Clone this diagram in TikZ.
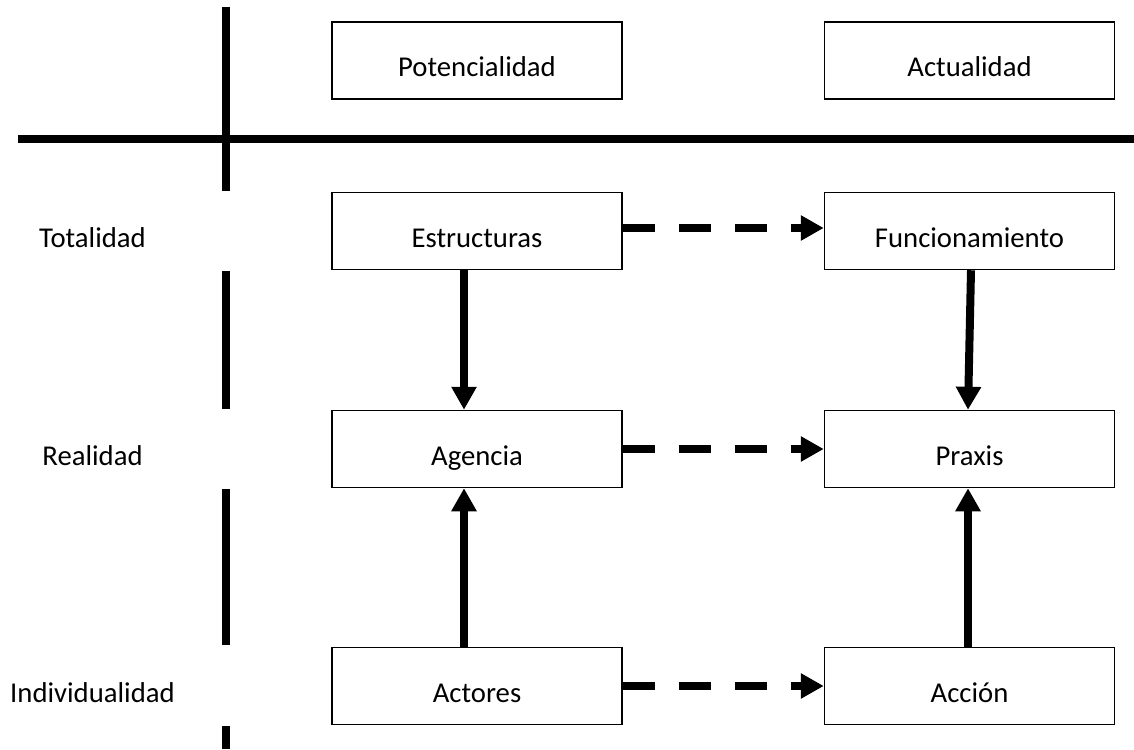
\documentclass[tikz,border=0pt]{standalone}
\usepackage{fontspec}
\setmainfont{Carlito}
\usetikzlibrary{arrows.meta}
\tikzstyle{CellNode}=[rectangle, draw=black, line width=1.5pt, minimum width=290pt, minimum height=77pt, inner sep=0pt, text height=32pt, text depth=0pt, font=\fontsize{28.7}{34}\selectfont]
\tikzstyle{RowLabel}=[CellNode, draw=none, minimum width=0pt]
\tikzstyle{Divider}=[line width=8pt]
\tikzstyle{FlowEdge}=[-{Triangle[length=23pt,width=24pt]}, line width=8pt]
\tikzstyle{LinkEdge}=[FlowEdge, dash pattern=on 32pt off 24pt]

\begin{document}
\begin{tikzpicture}[x=1pt,y=-1pt]
\useasboundingbox (0,0) rectangle (1134,749);

\node[CellNode](POT) at (477,60.5) {Potencialidad};
\node[CellNode](ACT) at (969.5,60.5) {Actualidad};
\node[CellNode](EST) at (477,231) {Estructuras};
\node[CellNode](FUN) at (969.5,231) {Funcionamiento};
\node[CellNode](AGE) at (477,449) {Agencia};
\node[CellNode](PRA) at (969.5,449) {Praxis};
\node[CellNode](ACO) at (477,686) {Actores};
\node[CellNode](ACC) at (969.5,686) {Acción};

\node[RowLabel](TOT) at (92.5,231) {Totalidad};
\node[RowLabel](REA) at (92.5,449) {Realidad};
\node[RowLabel](IND) at (92.5,686) {Individualidad};

% dividers
\draw[Divider](18,138.5) -- (1134,138.5);
\draw[Divider](226,7) -- (226,191);
\draw[Divider](226,271) -- (226,409);
\draw[Divider](226,489) -- (226,645);
\draw[Divider](226,726) -- (226,749);

\draw[LinkEdge]([yshift=3pt]EST.east) -- ([yshift=3pt]FUN.west);
\draw[LinkEdge](AGE.east) -- (PRA.west);
\draw[LinkEdge](ACO.east) -- (ACC.west);

\draw[FlowEdge]([xshift=-13pt]EST.south) -- ([xshift=-13pt]AGE.north);
\draw[FlowEdge]([xshift=-13pt]ACO.north) -- ([xshift=-13pt]AGE.south);
\draw[FlowEdge]([xshift=1.5pt]FUN.south) -- ([xshift=-1.5pt]PRA.north);
\draw[FlowEdge]([xshift=-1.5pt]ACC.north) -- ([xshift=-1.5pt]PRA.south);
\end{tikzpicture}
\end{document}
